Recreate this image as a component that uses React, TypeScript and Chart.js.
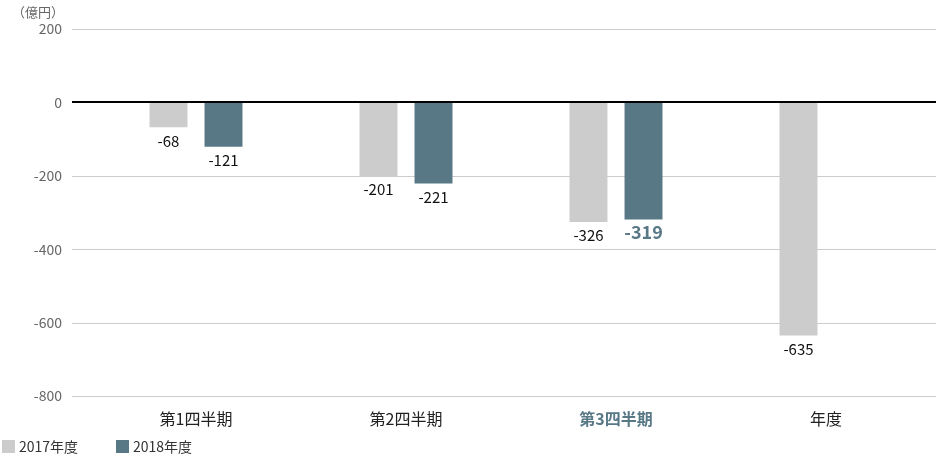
import React, { useEffect, useRef } from "react";
import { Chart, registerables, Plugin } from "chart.js";

Chart.register(...registerables);

const categories = ["第1四半期", "第2四半期", "第3四半期", "年度"];
const series2017 = [-68, -201, -326, -635];
const series2018: (number | null)[] = [-121, -221, -319, null];
const seriesNames = ["2017年度", "2018年度"];
const unitLabel = "（億円）";

const FONT = "'Noto Sans CJK JP', 'Noto Sans', sans-serif";
const GRAY = "#cccccc";
const SLATE = "#587886";
const HIGHLIGHT = 2;
const GRID_LEFT = 72;

// grid lines, value labels under each bar, unit label and legend
const extras: Plugin<"bar"> = {
  id: "extras",
  beforeDatasetsDraw(chart) {
    // the original's grid runs from just right of the tick labels to the canvas edge
    const { ctx } = chart;
    const y = chart.scales.y;
    ctx.save();
    y.ticks.forEach((t) => {
      const zero = t.value === 0;
      const py = Math.round(y.getPixelForValue(t.value)) + (zero ? 0 : 0.5);
      ctx.strokeStyle = zero ? "#000" : "#cccccc";
      ctx.lineWidth = zero ? 2 : 1;
      ctx.beginPath();
      ctx.moveTo(GRID_LEFT, py);
      ctx.lineTo(chart.width, py);
      ctx.stroke();
    });
    ctx.restore();
  },
  afterDatasetsDraw(chart) {
    const ctx = chart.ctx;
    ctx.save();
    chart.data.datasets.forEach((ds, di) => {
      const meta = chart.getDatasetMeta(di);
      meta.data.forEach((el: any, i) => {
        const v = ds.data[i] as number | null;
        if (v == null) return;
        const hl = di === 1 && i === HIGHLIGHT;
        ctx.font = `${hl ? "bold " : ""}${hl ? 18 : 15}px ${FONT}`;
        ctx.fillStyle = hl ? SLATE : "#111";
        ctx.textAlign = "center";
        ctx.textBaseline = "top";
        ctx.fillText(String(v), el.x, el.y + (hl ? 4 : 6));
      });
    });

    ctx.font = `13px ${FONT}`;
    ctx.fillStyle = "#666";
    ctx.textAlign = "right";
    ctx.textBaseline = "middle";
    ctx.fillText(unitLabel, 64, 12);

    const colors = [GRAY, SLATE];
    const xs = [2, 116];
    ctx.font = `14px ${FONT}`;
    ctx.textAlign = "left";
    seriesNames.forEach((n, i) => {
      ctx.fillStyle = colors[i];
      ctx.fillRect(xs[i], 440, 13, 13);
      ctx.fillStyle = "#333";
      ctx.fillText(n, xs[i] + 17, 447);
    });
    ctx.restore();
  },
};

const App: React.FC = () => {
  const chartRef = useRef<HTMLCanvasElement | null>(null);
  const chartInstance = useRef<Chart | null>(null);

  useEffect(() => {
    if (!chartRef.current) return;
    if (chartInstance.current) chartInstance.current.destroy();
    Chart.defaults.font.family = FONT;

    chartInstance.current = new Chart(chartRef.current, {
      type: "bar",
      data: {
        labels: categories,
        datasets: [
          {
            label: seriesNames[0],
            data: series2017,
            backgroundColor: GRAY,
            categoryPercentage: 0.524,
            barPercentage: 0.69,
          },
          {
            label: seriesNames[1],
            data: series2018,
            backgroundColor: SLATE,
            categoryPercentage: 0.524,
            barPercentage: 0.69,
          },
        ],
      },
      options: {
        animation: false,
        responsive: false,
        maintainAspectRatio: false,
        layout: { padding: { top: 29, right: 5, left: 0, bottom: 0 } },
        plugins: {
          legend: { display: false },
          tooltip: { enabled: false },
        },
        scales: {
          x: {
            grid: { display: false },
            border: { display: false },
            ticks: {
              padding: 5,
              color: (c: any) => (c.index === HIGHLIGHT ? SLATE : "#222"),
              font: (c: any) => ({
                size: 16,
                family: FONT,
                weight: c.index === HIGHLIGHT ? "bold" : "normal",
              }),
            },
            afterFit: (s: any) => {
              s.height = 60;
            },
          },
          y: {
            min: -800,
            max: 200,
            border: { display: false },
            // tick marks only reserve room; the lines themselves come from the plugin
            grid: {
              drawOnChartArea: false,
              drawTicks: true,
              tickLength: 19,
              color: "rgba(0,0,0,0)",
            },
            ticks: {
              stepSize: 200,
              padding: 10,
              color: "#666",
              font: { size: 14, family: FONT },
            },
            afterFit: (s: any) => {
              s.width = 91;
            },
          },
        },
      },
      plugins: [extras],
    });

    return () => {
      if (chartInstance.current) {
        chartInstance.current.destroy();
        chartInstance.current = null;
      }
    };
  }, []);

  return (
    <div style={{ position: "absolute", left: 0, top: 0, width: 936, height: 456, background: "#fff" }}>
      <canvas ref={chartRef} width={936} height={456} style={{ width: 936, height: 456 }} />
    </div>
  );
};

export default App;
